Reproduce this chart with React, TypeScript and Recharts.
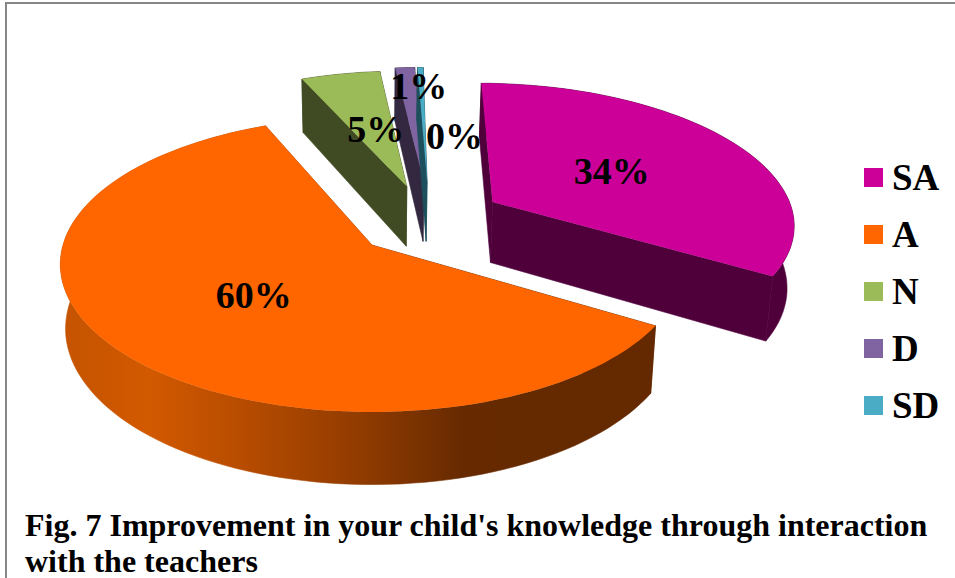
import React from 'react';
import { PieChart, Pie, Legend } from 'recharts';

const categories = ['SA', 'A', 'N', 'D', 'SD'];
const shares = [33.55, 60.0, 4.9, 1.2, 0.35];
const faceColors = ['#cc0099', '#ff6600', '#9bbb59', '#8064a2', '#4bacc6'];
const wallColors = ['#4f003b', 'url(#orangeWall)', '#414b23', '#33283f', '#1d4f5c'];

const captionLines = ["Fig. 7 Improvement in your child's knowledge through interaction", 'with the teachers'];

// explosion of each slice, in units of the pie radius on the pie's own plane
const explode = [
  [0.406, -0.309],
  [0, 0],
  [0.119, -0.426],
  [0.178, -0.461],
  [0.189, -0.461],
];
const labelNudge = [
  [-3, 2],
  [4, 2],
  [4, 3],
  [5, -34],
  [31, 16],
];

const PERSPECTIVE = 0.132;
const TILT = 0.469;
const DEPTH = 63;
const BOTTOM_SHRINK = 0.983;
const SERIF = '"Liberation Serif", serif';

const data = categories.map((name, i) => ({ name, value: shares[i], fill: faceColors[i] }));

const project = (cx: number, cy: number, r: number, u: number, v: number) => {
  const w = 1 - PERSPECTIVE * v;
  return { x: cx + (r * u) / w, y: cy + (r * TILT * v) / w, w };
};

const toPlane = (angle: number, frac: number, idx: number) => {
  const rad = (angle * Math.PI) / 180;
  return [explode[idx][0] + frac * Math.cos(rad), explode[idx][1] - frac * Math.sin(rad)];
};

const toPath = (pts: { x: number; y: number }[]) =>
  'M' + pts.map((p) => `${p.x.toFixed(1)},${p.y.toFixed(1)}`).join('L') + 'Z';

// recharts hands over the sector angles, the 3D look is only a different projection of them
const Slice3D = (props: any) => {
  const { cx, cy, outerRadius, startAngle, endAngle, fill } = props;
  const idx = categories.indexOf(props.name ?? props.payload?.name);
  const steps = Math.max(2, Math.ceil(Math.abs(endAngle - startAngle) / 2));
  const rim = [];
  for (let s = 0; s <= steps; s++) {
    const a = startAngle + ((endAngle - startAngle) * s) / steps;
    const [u, v] = toPlane(a, 1, idx);
    rim.push(project(cx, cy, outerRadius, u, v));
  }
  const apex = project(cx, cy, outerRadius, explode[idx][0], explode[idx][1]);
  const down = (p: { x: number; y: number; w: number }) => ({
    x: cx + (p.x - cx) * BOTTOM_SHRINK,
    y: p.y + DEPTH / p.w,
  });
  const first = rim[0];
  const last = rim[rim.length - 1];
  const wall = wallColors[idx];
  return (
    <g>
      <defs>
        <linearGradient id="orangeWall" gradientUnits="userSpaceOnUse" x1={60} y1={0} x2={652} y2={0}>
          <stop offset="0" stopColor="#c45300" />
          <stop offset="0.15" stopColor="#d25900" />
          <stop offset="0.32" stopColor="#b54b00" />
          <stop offset="0.5" stopColor="#923c00" />
          <stop offset="0.68" stopColor="#672a00" />
          <stop offset="1" stopColor="#642900" />
        </linearGradient>
      </defs>
      <path d={toPath([apex, first, down(first), down(apex)])} fill={wall} stroke={wall} strokeWidth={0.6} />
      <path d={toPath([apex, last, down(last), down(apex)])} fill={wall} stroke={wall} strokeWidth={0.6} />
      <path d={toPath([...rim, ...rim.map(down).reverse()])} fill={wall} stroke={wall} strokeWidth={0.6} />
      <path d={toPath([apex, ...rim])} fill={fill} />
    </g>
  );
};

const renderLabel = (props: any) => {
  const { cx, cy, outerRadius, midAngle, index, percent } = props;
  const [u, v] = toPlane(midAngle, 0.5, index);
  const p = project(cx, cy, outerRadius, u, v);
  return (
    <text
      x={p.x + labelNudge[index][0]}
      y={p.y + labelNudge[index][1] + 12}
      textAnchor="middle"
      fontFamily={SERIF}
      fontWeight="bold"
      fontSize={38}
      fill="#000"
    >
      {Math.round(percent * 100)}%
    </text>
  );
};

const LegendList = ({ payload }: any) => (
  <div style={{ fontFamily: SERIF, fontWeight: 'bold', fontSize: 37, color: '#000' }}>
    {(payload || []).map((entry: any) => (
      <div key={entry.value} style={{ display: 'flex', alignItems: 'center', height: 57 }}>
        <span style={{ width: 19, height: 19, background: entry.color, marginRight: 9, display: 'inline-block' }} />
        {entry.value}
      </div>
    ))}
  </div>
);

export default function App() {
  return (
    <div style={{ position: 'absolute', left: 0, top: 0, width: 955, height: 578, overflow: 'hidden', background: '#fff' }}>
      <div style={{ position: 'absolute', left: 5, top: 2, width: 960, height: 590, border: '2px solid #868686' }} />
      <div style={{ position: 'absolute', left: 0, top: 0 }}>
        <PieChart width={955} height={578} margin={{ top: 0, right: 0, bottom: 0, left: 0 }}>
          <Pie
            data={data}
            dataKey="value"
            nameKey="name"
            cx={372}
            cy={245}
            innerRadius={0}
            outerRadius={309}
            startAngle={89.5}
            endAngle={-270.5}
            paddingAngle={0}
            stroke="none"
            isAnimationActive={false}
            shape={Slice3D}
            inactiveShape={Slice3D}
            activeShape={Slice3D}
            label={renderLabel}
            labelLine={false}
          />
          <Legend
            layout="vertical"
            itemSorter={null}
            content={<LegendList />}
            wrapperStyle={{ position: 'absolute', left: 864, top: 149, width: 91, bottom: 'auto' }}
          />
        </PieChart>
      </div>
      <div
        style={{
          position: 'absolute',
          left: 25,
          top: 507,
          fontFamily: SERIF,
          fontWeight: 'bold',
          fontSize: 32,
          lineHeight: '36px',
          color: '#000',
          whiteSpace: 'nowrap',
        }}
      >
        {captionLines.map((line) => (
          <div key={line}>{line}</div>
        ))}
      </div>
    </div>
  );
}
